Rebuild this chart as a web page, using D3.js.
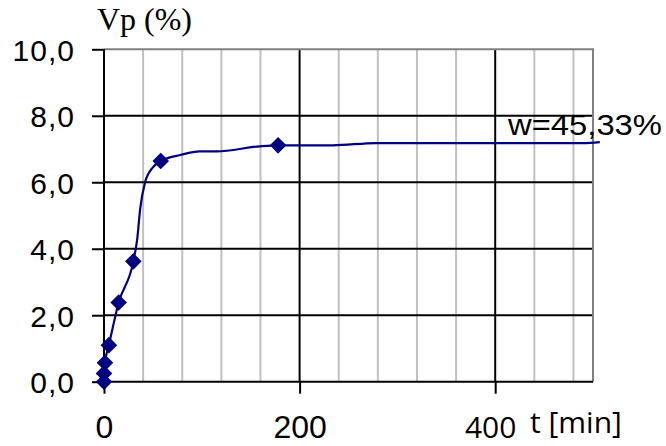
<!DOCTYPE html>
<html>
<head>
<meta charset="utf-8">
<style>
    body { margin: 0; background: #fff; }
    svg { display: block; }
</style>
</head>
<body>
    <div class="graph"></div>

    <script src="https://d3js.org/d3.v7.min.js"></script>
    <script>
        // measured points (diamonds)
        var markerT = [0, 0, 1, 5, 15, 30, 58, 178]
        var markerV = [0, 0.25, 0.57, 1.1, 2.38, 3.62, 6.64, 7.11]

        // fitted curve
        var curveT = [0, 0, 1, 5, 15, 30, 34, 37, 42, 50, 58, 78, 98, 115, 159, 178, 234, 278, 490, 507]
        var curveV = [0, 0.25, 0.57, 1.1, 2.38, 3.62, 4.3, 5.2, 6.0, 6.45, 6.64, 6.82, 6.93, 6.93, 7.08, 7.11, 7.11, 7.18, 7.18, 7.21]

        var yTicks = [0, 2, 4, 6, 8, 10]
        var xTicks = [0, 200, 400]
        var xMinor = [40, 80, 120, 160, 240, 280, 320, 360, 440, 480]

        var width = 666,
            height = 446

        var x = d3.scaleLinear()
            .domain([0, 500])
            .range([104, 593])

        var y = d3.scaleLinear()
            .domain([0, 10])
            .range([381.7, 49.3])

        var svg = d3.select('.graph').append('svg')
            .attr('width', width)
            .attr('height', height)

        // grid
        var grid = svg.append('g').attr('class', 'grid')

        grid.selectAll('.minor')
            .data(xMinor)
            .enter().append('line')
            .attr('x1', function (d) { return x(d) })
            .attr('x2', function (d) { return x(d) })
            .attr('y1', y(0))
            .attr('y2', y(10))
            .style('stroke', '#c0c0c0')
            .style('stroke-width', 2)

        grid.selectAll('.hmajor')
            .data([2, 4, 6, 8])
            .enter().append('line')
            .attr('x1', x(0))
            .attr('x2', x(500))
            .attr('y1', function (d) { return y(d) })
            .attr('y2', function (d) { return y(d) })
            .style('stroke', '#000')
            .style('stroke-width', 2)

        grid.selectAll('.vmajor')
            .data([200, 400])
            .enter().append('line')
            .attr('x1', function (d) { return x(d) })
            .attr('x2', function (d) { return x(d) })
            .attr('y1', y(0))
            .attr('y2', y(10))
            .style('stroke', '#000')
            .style('stroke-width', 2)

        // plot border top / right
        grid.append('path')
            .attr('d', 'M' + x(0) + ',' + y(10) + 'H' + x(500) + 'V' + y(0))
            .style('fill', 'none')
            .style('stroke', '#808080')
            .style('stroke-width', 2)

        // axes
        var fmt = function (d) { return d3.format('.1f')(d).replace('.', ',') }

        var y_axis = svg.append('g')
            .attr('transform', 'translate(' + x(0) + ',0)')
            .call(d3.axisLeft(y).tickValues(yTicks).tickSize(12).tickFormat(fmt))

        y_axis.selectAll('text')
            .attr('x', -29)
            .attr('dy', '0.36em')
            .style('font-family', 'Arial, "Liberation Sans", sans-serif')
            .style('font-size', '30px')
            .style('letter-spacing', '1px')
            .style('fill', '#000')

        var x_axis = svg.append('g')
            .attr('transform', 'translate(0,' + y(0) + ')')
            .call(d3.axisBottom(x).tickValues(xTicks).tickSize(12).tickFormat(d3.format('d')))

        x_axis.selectAll('text')
            .attr('y', 56.5)
            .attr('dy', 0)
            .style('font-family', 'Arial, "Liberation Sans", sans-serif')
            .style('font-size', '32px')
            .style('fill', '#000')

        // the 400 label sits in a separate text box in the original
        x_axis.selectAll('.tick').filter(function (d) { return d === 400 }).select('text')
            .attr('dx', -5)
            .style('font-family', '"Open Sans", sans-serif')
            .style('font-size', '30px')

        svg.selectAll('.domain, .tick line')
            .style('stroke', '#000')
            .style('stroke-width', 2)
        y_axis.select('.domain').attr('d', 'M0,' + y(0) + 'V' + y(10))
        x_axis.select('.domain').attr('d', 'M' + x(0) + ',0H' + x(500))

        // curve
        var line = d3.line()
            .x(function (d, i) { return x(curveT[i]) })
            .y(function (d) { return y(d) })
            .curve(d3.curveMonotoneX)

        svg.append('path')
            .datum(curveV)
            .attr('d', line)
            .style('fill', 'none')
            .style('stroke', '#000080')
            .style('stroke-width', 2.2)

        // diamonds
        svg.selectAll('.pt')
            .data(markerV)
            .enter().append('path')
            .attr('transform', function (d, i) { return 'translate(' + x(markerT[i]) + ',' + y(d) + ')' })
            .attr('d', d3.symbol().type(d3.symbolDiamond2).size(175))
            .style('fill', '#000080')

        // labels
        svg.append('text')
            .attr('x', 97)
            .attr('y', 30)
            .attr('textLength', 95)
            .attr('lengthAdjust', 'spacingAndGlyphs')
            .text('Vp (%)')
            .style('font-family', '"Liberation Serif", "Times New Roman", serif')
            .style('font-size', '31px')

        svg.append('text')
            .attr('x', 508)
            .attr('y', 135)
            .attr('textLength', 154)
            .attr('lengthAdjust', 'spacingAndGlyphs')
            .text('w=45,33%')
            .style('font-family', 'Arial, "Liberation Sans", sans-serif')
            .style('font-size', '29px')

        svg.append('text')
            .attr('x', 530)
            .attr('y', 433)
            .text('t [min]')
            .style('font-family', '"Open Sans", sans-serif')
            .style('font-size', '30px')
    </script>
</body>
</html>
